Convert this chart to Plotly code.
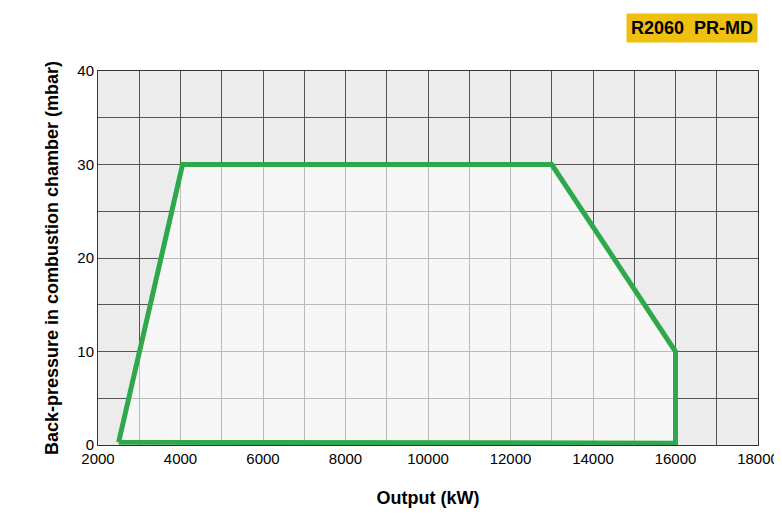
import plotly.graph_objects as go

output_kw = [2500, 4050, 13000, 16000, 16000, 2500]
back_pressure = [0.3, 30, 30, 10, 0.2, 0.3]

fig = go.Figure()
fig.add_trace(go.Scatter(x=output_kw, y=back_pressure, mode="lines", fill="toself",
                         fillcolor="rgba(255,255,255,0.6)",
                         line=dict(color="#2ea84a", width=5), hoverinfo="skip"))

fig.update_layout(
    width=782, height=520, showlegend=False,
    paper_bgcolor="white", plot_bgcolor="#ececec",
    margin=dict(l=90, r=32, t=63, b=83, autoexpand=False),
    font=dict(family="Liberation Sans, Arial", size=15, color="black"),
    xaxis=dict(range=[2000, 18000], dtick=2000, tick0=2000, tickformat="d",
               showgrid=True, gridcolor="#555", gridwidth=1, automargin=False,
               minor=dict(dtick=1000, showgrid=True, gridcolor="#555", gridwidth=1),
               showline=True, linecolor="#333", mirror=True, zeroline=False,
               ticks="", title=dict(text="<b>Output (kW)</b>", standoff=25)),
    yaxis=dict(range=[0, 40], dtick=10, automargin=False,
               showgrid=True, gridcolor="#555", gridwidth=1,
               minor=dict(dtick=5, showgrid=True, gridcolor="#555", gridwidth=1),
               showline=True, linecolor="#333", mirror=True, zeroline=False,
               ticks="", title=dict(text="<b>Back-pressure in combustion chamber (mbar)</b>", standoff=14)),
    annotations=[dict(text="<b>R2060  PR-MD</b>", xref="paper", yref="paper",
                      x=1.0, y=1.075, xanchor="right", yanchor="bottom", showarrow=False,
                      bgcolor="#f0c010", font=dict(size=18, color="black"),
                      borderpad=4)],
)
fig.write_html("out.html")
